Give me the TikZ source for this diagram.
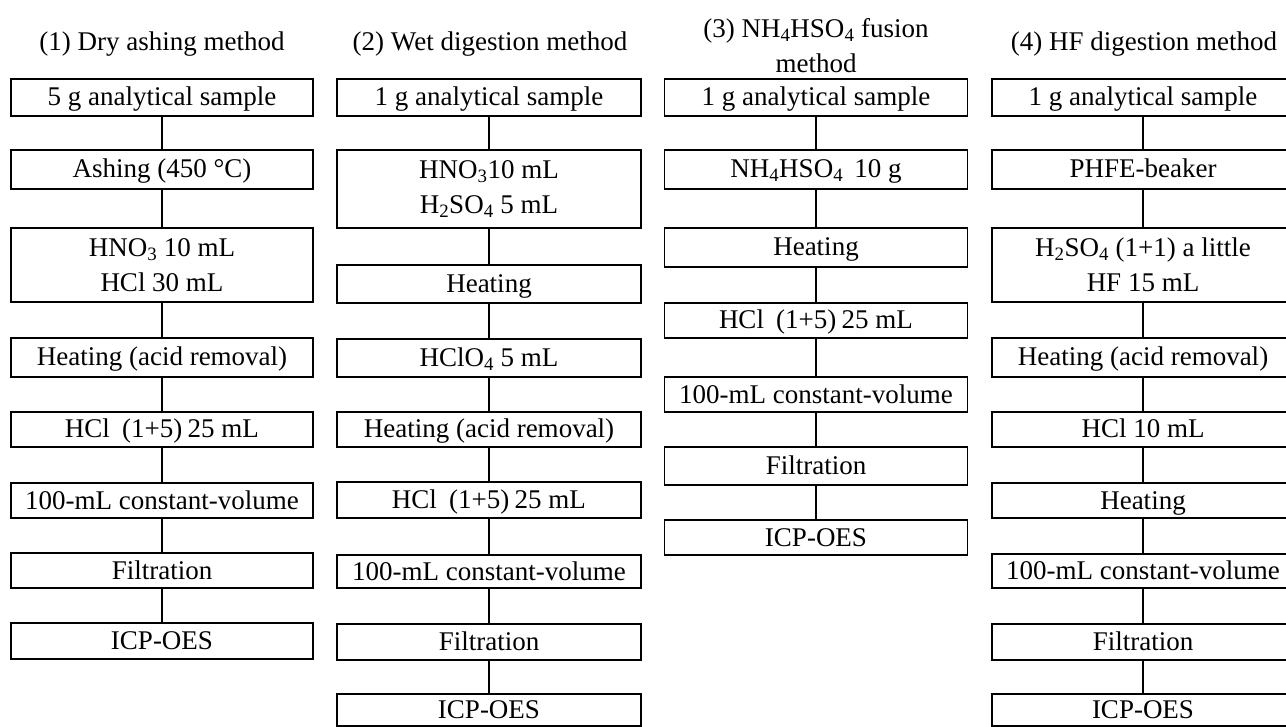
\documentclass[tikz,border=0pt]{standalone}
\usepackage{fontspec}
\setmainfont{Liberation Serif}
\usetikzlibrary{positioning}
\tikzset{>=latex}
\tikzstyle{stage} = [draw=black, line width=1.6pt, minimum width=302, minimum height=37, inner sep=0, align=center, font=\fontsize{27}{35}\selectfont]
\tikzstyle{oneline} = [stage, text height=21, text depth=4]
\tikzstyle{heading} = [draw=none, inner sep=0, align=center, font=\fontsize{27}{35}\selectfont]
\tikzstyle{link} = [-, draw=black, line width=1.3pt]
\newcommand{\chemsub}[1]{\textsubscript{#1}}
\newcommand{\hclmix}{HCl\hspace{0.45em}(1+5)\hspace{0.2em}25 mL}

\begin{document}
\begin{tikzpicture}[x=1pt, y=-1pt]
\useasboundingbox (0, 0) rectangle (1286, 727);
% titles
\node [heading] (T1) at (162, 44) {(1) Dry ashing method};
\node [heading] (T2) at (490, 44) {(2) Wet digestion method};
\node [heading] (T3) at (816, 46) {(3) NH\chemsub{4}HSO\chemsub{4} fusion\\method};
\node [heading] (T4) at (1144, 44) {(4) HF digestion method};
% (1) dry ashing
\node [oneline, minimum height=37] (A1) at (162, 97.5) {5 g analytical sample};
\node [oneline, minimum height=39] (A2) at (162, 169.5) {Ashing (450 °C)};
\node [stage, minimum height=74] (A3) at (162, 265) {HNO\chemsub{3} 10 mL\\HCl 30 mL};
\node [oneline, minimum height=39] (A4) at (162, 357.5) {Heating (acid removal)};
\node [oneline, minimum height=35] (A5) at (162, 429.5) {\hclmix};
\node [oneline, minimum height=35] (A6) at (162, 500.5) {100-mL constant-volume};
\node [oneline, minimum height=35] (A7) at (162, 570.5) {Filtration};
\node [oneline, minimum height=36] (A8) at (162, 641) {ICP-OES};
% (2) wet digestion
\node [oneline, minimum width=304, minimum height=37] (B1) at (489, 97.5) {1 g analytical sample};
\node [stage, minimum width=304, minimum height=78] (B2) at (489, 189) {HNO\chemsub{3}10 mL\\H\chemsub{2}SO\chemsub{4} 5 mL};
\node [oneline, minimum width=304, minimum height=38] (B3) at (489, 284) {Heating};
\node [oneline, minimum width=304, minimum height=38] (B4) at (489, 358) {HClO\chemsub{4} 5 mL};
\node [oneline, minimum width=304, minimum height=35] (B5) at (489, 429.5) {Heating (acid removal)};
\node [oneline, minimum width=304, minimum height=36] (B6) at (489, 500) {\hclmix};
\node [oneline, minimum width=304, minimum height=33] (B7) at (489, 571.5) {100-mL constant-volume};
\node [oneline, minimum width=304, minimum height=36] (B8) at (489, 642) {Filtration};
\node [oneline, minimum width=304, minimum height=32] (B9) at (489, 710) {ICP-OES};
% (3) NH4HSO4 fusion
\node [oneline, minimum width=303, minimum height=37] (C1) at (816, 97.5) {1 g analytical sample};
\node [oneline, minimum width=303, minimum height=39] (C2) at (816, 169.5) {NH\chemsub{4}HSO\chemsub{4}\, 10 g};
\node [oneline, minimum width=303, minimum height=39] (C3) at (816, 247.5) {Heating};
\node [oneline, minimum width=303, minimum height=35] (C4) at (816, 320.5) {\hclmix};
\node [oneline, minimum width=303, minimum height=35] (C5) at (816, 394.5) {100-mL constant-volume};
\node [oneline, minimum width=303, minimum height=38] (C6) at (816, 466) {Filtration};
\node [oneline, minimum width=303, minimum height=35] (C7) at (816, 537.5) {ICP-OES};
% (4) HF digestion
\node [oneline, minimum height=37] (D1) at (1143, 97.5) {1 g analytical sample};
\node [oneline, minimum height=39] (D2) at (1143, 169.5) {PHFE-beaker};
\node [stage, minimum height=74] (D3) at (1143, 265) {H\chemsub{2}SO\chemsub{4} (1+1) a little\\HF 15 mL};
\node [oneline, minimum height=39] (D4) at (1143, 357.5) {Heating (acid removal)};
\node [oneline, minimum height=35] (D5) at (1143, 429.5) {HCl 10 mL};
\node [oneline, minimum height=35] (D6) at (1143, 500.5) {Heating};
\node [oneline, minimum height=34] (D7) at (1143, 571) {100-mL constant-volume};
\node [oneline, minimum height=36] (D8) at (1143, 642) {Filtration};
\node [oneline, minimum height=32] (D9) at (1143, 710) {ICP-OES};
% connectors
\draw [link] (A1) to (A2);
\draw [link] (A2) to (A3);
\draw [link] (A3) to (A4);
\draw [link] (A4) to (A5);
\draw [link] (A5) to (A6);
\draw [link] (A6) to (A7);
\draw [link] (A7) to (A8);
\draw [link] (B1) to (B2);
\draw [link] (B2) to (B3);
\draw [link] (B3) to (B4);
\draw [link] (B4) to (B5);
\draw [link] (B5) to (B6);
\draw [link] (B6) to (B7);
\draw [link] (B7) to (B8);
\draw [link] (B8) to (B9);
\draw [link] (C1) to (C2);
\draw [link] (C2) to (C3);
\draw [link] (C3) to (C4);
\draw [link] (C4) to (C5);
\draw [link] (C5) to (C6);
\draw [link] (C6) to (C7);
\draw [link] (D1) to (D2);
\draw [link] (D2) to (D3);
\draw [link] (D3) to (D4);
\draw [link] (D4) to (D5);
\draw [link] (D5) to (D6);
\draw [link] (D6) to (D7);
\draw [link] (D7) to (D8);
\draw [link] (D8) to (D9);
\end{tikzpicture}
\end{document}
